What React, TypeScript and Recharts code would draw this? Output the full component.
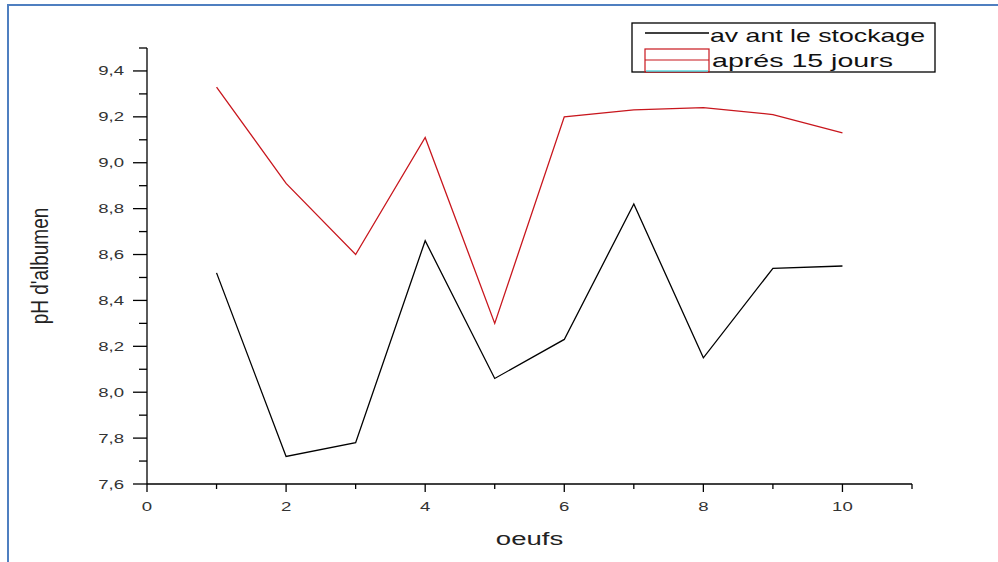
import React from "react";
import { LineChart, Line, XAxis, YAxis } from "recharts";

// oeufs 1..10, pH d'albumen
const oeufs = [1, 2, 3, 4, 5, 6, 7, 8, 9, 10];
const avantStockage = [8.52, 7.72, 7.78, 8.66, 8.06, 8.23, 8.82, 8.15, 8.54, 8.55];
const apres15Jours = [9.33, 8.91, 8.6, 9.11, 8.3, 9.2, 9.23, 9.24, 9.21, 9.13];

const xTicks = [0, 1, 2, 3, 4, 5, 6, 7, 8, 9, 10, 11];
const yTicks = [
  7.6, 7.7, 7.8, 7.9, 8.0, 8.1, 8.2, 8.3, 8.4, 8.5, 8.6, 8.7, 8.8, 8.9, 9.0,
  9.1, 9.2, 9.3, 9.4, 9.5,
];

const FONT = "'Liberation Sans', Arial, sans-serif";
const RED = "#c8161d";
const STRETCH = 1.55;

const data = oeufs.map((x, i) => ({
  x,
  avant: avantStockage[i],
  apres: apres15Jours[i],
}));

const XTick = (props: any) => {
  const { x, y, payload } = props;
  const v = payload.value as number;
  const major = v % 2 === 0 && v <= 10;
  return (
    <g>
      <line x1={x} x2={x} y1={y} y2={y + (major ? 8 : 5)} stroke="#000" strokeWidth={1.3} />
      {major && (
        <text
          transform={`translate(${x},${y + 27}) scale(${STRETCH},1)`}
          textAnchor="middle"
          fontFamily={FONT}
          fontSize={12}
          fill="#333"
        >
          {v}
        </text>
      )}
    </g>
  );
};

const YTick = (props: any) => {
  const { x, y, payload } = props;
  const v = payload.value as number;
  const major = Math.round(v * 10) % 2 === 0 && v < 9.45;
  return (
    <g>
      <line x1={x} x2={x - (major ? 14 : 8)} y1={y} y2={y} stroke="#000" strokeWidth={1.3} />
      {major && (
        <text
          transform={`translate(${x - 23},${y + 4.5}) scale(${STRETCH},1)`}
          textAnchor="end"
          fontFamily={FONT}
          fontSize={12}
          fill="#333"
        >
          {v.toFixed(1).replace(".", ",")}
        </text>
      )}
    </g>
  );
};

const Legende = () => (
  <svg
    width={306}
    height={52}
    style={{ position: "absolute", left: 631, top: 22 }}
  >
    <rect x={1} y={1} width={303} height={49} fill="#fff" stroke="#000" strokeWidth={1.3} />
    <line x1={14} x2={78} y1={11} y2={11} stroke="#000" strokeWidth={1.3} />
    <text x={79} y={20} fontFamily={FONT} fontSize={19} fill="#111" textLength={215} lengthAdjust="spacingAndGlyphs">
      av ant le stockage
    </text>
    <rect x={14} y={27} width={64} height={23} fill="none" stroke={RED} strokeWidth={1.2} />
    <line x1={14} x2={78} y1={38} y2={38} stroke={RED} strokeWidth={1.2} />
    <line x1={15} x2={77} y1={49} y2={49} stroke="#5fd8e0" strokeWidth={1.5} />
    <text x={81} y={45} fontFamily={FONT} fontSize={19} fill="#111" textLength={181} lengthAdjust="spacingAndGlyphs">
      aprés 15 jours
    </text>
  </svg>
);

export default function App() {
  return (
    <div
      style={{
        position: "absolute",
        left: 0,
        top: 0,
        width: 998,
        height: 562,
        overflow: "hidden",
        background: "#fff",
      }}
    >
      <div
        style={{
          position: "absolute",
          left: 7,
          top: 4,
          width: 1100,
          height: 700,
          border: "2px solid #4f7fc0",
        }}
      />
      <div style={{ position: "absolute", left: 0, top: 0 }}>
        <LineChart
          width={998}
          height={562}
          data={data}
          margin={{ top: 48, right: 86, left: 87, bottom: 48 }}
        >
          <XAxis
            type="number"
            dataKey="x"
            domain={[0, 11]}
            ticks={xTicks}
            interval={0}
            tick={<XTick />}
            tickLine={false}
            tickSize={0}
            tickMargin={0}
            height={30}
            axisLine={{ stroke: "#000", strokeWidth: 1.3 }}
            label={{
              content: (p: any) => (
                <text
                  transform={`translate(${p.viewBox.x + p.viewBox.width / 2},${p.viewBox.y + 61}) scale(1.45,1)`}
                  textAnchor="middle"
                  fontFamily={FONT}
                  fontSize={19}
                  fill="#222"
                >
                  oeufs
                </text>
              ),
            }}
          />
          <YAxis
            type="number"
            domain={[7.6, 9.5]}
            ticks={yTicks}
            interval={0}
            allowDataOverflow
            tick={<YTick />}
            tickLine={false}
            tickSize={0}
            tickMargin={0}
            width={60}
            axisLine={{ stroke: "#000", strokeWidth: 1.3 }}
            label={{
              content: (p: any) => (
                <text
                  transform={`translate(${p.viewBox.x - 39},${p.viewBox.y + p.viewBox.height / 2}) rotate(-90) scale(1,1.3)`}
                  textAnchor="middle"
                  fontFamily={FONT}
                  fontSize={19}
                  fill="#222"
                >
                  pH d'albumen
                </text>
              ),
            }}
          />
          <Line
            dataKey="avant"
            type="linear"
            stroke="#000"
            strokeWidth={1.3}
            dot={false}
            isAnimationActive={false}
          />
          <Line
            dataKey="apres"
            type="linear"
            stroke={RED}
            strokeWidth={1.3}
            dot={false}
            isAnimationActive={false}
          />
        </LineChart>
      </div>
      <Legende />
    </div>
  );
}
